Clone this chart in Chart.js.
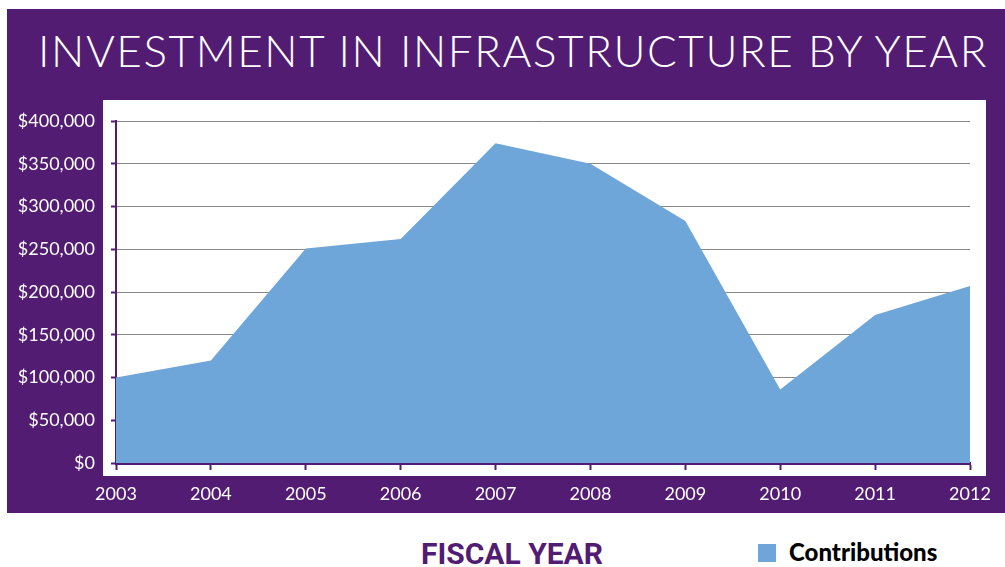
<!DOCTYPE html>
<html>
<head>
<meta charset="utf-8">
<script src="https://cdn.jsdelivr.net/npm/chart.js@4.4.0/dist/chart.umd.min.js"></script>
<style>
  html, body { margin:0; padding:0; background:#fff; width:1005px; height:567px; overflow:hidden; }
  #purple { position:absolute; left:7px; top:9px; width:998px; height:504px; background:#521C72; }
  #white { position:absolute; left:103px; top:100px; width:883px; height:376px; background:#fff; }
  #title { position:absolute; left:38px; top:22px; color:#fff;
           font-family:"Lato","Open Sans",sans-serif; font-weight:300; font-size:44px; letter-spacing:1.6px; line-height:56px; white-space:nowrap; }
  #wrap { position:absolute; left:0; top:100px; width:1005px; height:420px; }
  #c { display:block; }
  #xtitle { position:absolute; left:412px; top:537px; width:200px; text-align:center; color:#521C72;
            font-family:"Liberation Sans Narrow","Roboto",sans-serif; font-weight:bold; font-size:30px; line-height:34px; }
  #legend { position:absolute; left:758px; top:539px; font-family:"Lato","DejaVu Sans",sans-serif; font-weight:900; font-size:24px; line-height:26px; color:#000; white-space:nowrap; }
  #legend .sw { display:inline-block; width:18px; height:18px; background:#6FA6D9; vertical-align:-1px; margin-right:13px; }
</style>
</head>
<body>
<div id="purple"></div>
<div id="white"></div>
<div id="title"></div>
<div id="wrap"><canvas id="c" width="1005" height="420"></canvas></div>
<div id="xtitle"></div>
<div id="legend"></div>
<script>
const chartTitle = "INVESTMENT IN INFRASTRUCTURE BY YEAR";
const xAxisTitle = "FISCAL YEAR";
const seriesName = "Contributions";
const years = ["2003","2004","2005","2006","2007","2008","2009","2010","2011","2012"];
const contributions = [100000, 120000, 251000, 262000, 374000, 350000, 283000, 86000, 173000, 207000];
const yMin = 0, yMax = 400000, yStep = 50000;

const PURPLE = "#521C72";
const BLUE = "#6FA6D9";

document.getElementById("title").textContent = chartTitle;
document.getElementById("xtitle").textContent = xAxisTitle;
document.getElementById("legend").innerHTML = '<span class="sw"></span>' + seriesName;

const fmt = v => "$" + Number(v).toLocaleString("en-US");

new Chart(document.getElementById("c"), {
  type: "line",
  data: {
    labels: years,
    datasets: [{
      label: seriesName,
      data: contributions,
      fill: "origin",
      backgroundColor: BLUE,
      borderColor: BLUE,
      borderWidth: 0,
      pointRadius: 0,
      tension: 0
    }]
  },
  options: {
    responsive: false,
    animation: false,
    devicePixelRatio: 1,
    layout: { padding: { top: 21, right: 35, bottom: 0, left: 0 } },
    plugins: { legend: { display: false }, title: { display: false }, tooltip: { enabled: false } },
    scales: {
      x: {
        offset: false,
        grid: { drawOnChartArea: false, drawTicks: true, tickLength: 7, tickColor: PURPLE, tickWidth: 2 },
        border: { color: PURPLE, width: 3 },
        ticks: { color: "#fff", font: { family: "Lato", size: 18 }, padding: 13, maxRotation: 0, autoSkip: false },
        afterFit: s => { s.height = 57; s.paddingLeft = 0; s.paddingRight = 0; }
      },
      y: {
        min: yMin, max: yMax,
        grid: { color: "#888", lineWidth: 1, tickLength: 5, tickColor: PURPLE, tickWidth: 2 },
        border: { color: PURPLE, width: 2 },
        ticks: { stepSize: yStep, color: "#fff", font: { family: "Lato", size: 18 }, padding: 16, callback: v => fmt(v) },
        afterFit: s => { s.width = 116; s.paddingTop = 0; s.paddingBottom = 0; }
      }
    }
  }
});
</script>
</body>
</html>
